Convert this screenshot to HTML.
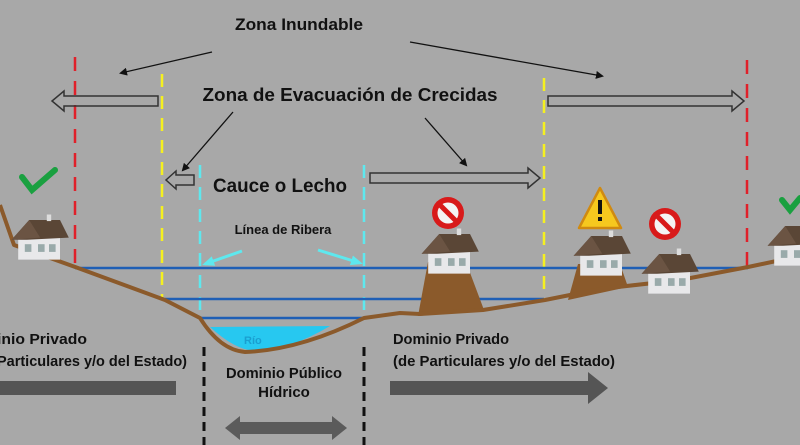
<!DOCTYPE html>
<html><head><meta charset="utf-8"><style>
html,body{margin:0;padding:0;background:#a8a8a8;}
svg{display:block}
text{font-family:"Liberation Sans",sans-serif;font-weight:bold;fill:#111}
</style></head><body>
<svg width="800" height="445" viewBox="0 0 800 445" xmlns="http://www.w3.org/2000/svg">
<defs>
<marker id="ah" markerWidth="8" markerHeight="8" refX="6" refY="4" orient="auto" markerUnits="userSpaceOnUse"><path d="M0,0 L8,4 L0,8 z" fill="#111"/></marker>
<marker id="ahc" markerWidth="12" markerHeight="10" refX="9" refY="5" orient="auto" markerUnits="userSpaceOnUse"><path d="M0,0 L12,5 L0,10 z" fill="#5ee8ee"/></marker>
<g id="house">
<polygon points="2,16 40,16 40,36 2,36" fill="#e8e8ea"/>
<polygon points="-4,18 12,0 40,0 48,16 10,18" fill="#5a4636"/>
<polygon points="-4,18 12,0 22,16" fill="#6b5443"/>
<rect x="8" y="22" width="6" height="7" fill="#9aa"/><rect x="20" y="22" width="6" height="7" fill="#9aa"/><rect x="30" y="22" width="6" height="7" fill="#9aa"/>
<rect x="28" y="-5" width="4" height="6" fill="#ddd"/>
</g>
<g id="noway"><circle r="16" fill="#d81a1a"/><circle r="10.5" fill="#f4f4f4"/><line x1="-8" y1="-8" x2="8" y2="8" stroke="#d81a1a" stroke-width="5"/></g>
</defs>

<line x1="75" y1="57" x2="75" y2="270" stroke="#e0202a" stroke-width="2.5" stroke-dasharray="14,10"/>
<line x1="747" y1="60" x2="747" y2="268" stroke="#e0202a" stroke-width="2.5" stroke-dasharray="14,10"/>
<line x1="162" y1="74" x2="162" y2="300" stroke="#f5f020" stroke-width="2.5" stroke-dasharray="13,9"/>
<line x1="544" y1="78" x2="544" y2="300" stroke="#f5f020" stroke-width="2.5" stroke-dasharray="13,9"/>
<line x1="200" y1="165" x2="200" y2="318" stroke="#5ee8ee" stroke-width="2.5" stroke-dasharray="13,9"/>
<line x1="364" y1="165" x2="364" y2="318" stroke="#5ee8ee" stroke-width="2.5" stroke-dasharray="13,9"/>

<line x1="75" y1="268" x2="748" y2="268" stroke="#1f5fb5" stroke-width="2.5"/>
<line x1="165" y1="299" x2="544" y2="299" stroke="#1f5fb5" stroke-width="2.5"/>
<line x1="200" y1="318" x2="364" y2="318" stroke="#1f5fb5" stroke-width="2.5"/>

<path d="M210,327 Q235,350 255,351 Q290,350 330,326 Z" fill="#27c8f0"/>
<text x="244" y="344" font-size="11" style="fill:#1a9fd0">Río</text>

<polygon points="418,316 428,262 466,262 484,310" fill="#8b5a2b"/>
<polygon points="568,300 578,264 620,264 628,287" fill="#8b5a2b"/>
<path d="M0,205 L14,245 L78,268 L165,300 L200,318 Q220,350 245,352 Q300,350 364,318 L400,313 L420,314 L483,310 L545,300 L600,289 L680,280 L748,267 L800,256" fill="none" stroke="#8b5a2b" stroke-width="4" stroke-linejoin="round"/>

<use href="#house" transform="translate(16,220) scale(1.1)"/>
<use href="#house" transform="translate(426,234) scale(1.1)"/>
<use href="#house" transform="translate(578,236) scale(1.1)"/>
<use href="#house" transform="translate(646,254) scale(1.1)"/>
<use href="#house" transform="translate(772,226) scale(1.1)"/>

<use href="#noway" x="448" y="213"/>
<use href="#noway" x="665" y="224"/>
<polygon points="600,188 621,228 579,228" fill="#f6c81e" stroke="#d08a10" stroke-width="2.5" stroke-linejoin="round"/>
<rect x="598" y="200" width="4" height="14" fill="#111"/><rect x="598" y="217" width="4" height="4" fill="#111"/>
<path d="M22,177 L32,190 L55,170" fill="none" stroke="#1aa040" stroke-width="6" stroke-linecap="round"/>
<path d="M782,200 L790,210 L800,198" fill="none" stroke="#1aa040" stroke-width="6" stroke-linecap="round"/>

<g fill="none" stroke="#333" stroke-width="1.5">
<path d="M158,96 L64,96 L64,91 L52,101 L64,111 L64,106 L158,106 Z"/>
<path d="M548,96 L732,96 L732,91 L744,101 L732,111 L732,106 L548,106 Z"/>
<path d="M194,175 L176,175 L176,171 L166,180 L176,189 L176,185 L194,185 Z"/>
<path d="M370,173 L528,173 L528,168 L540,178 L528,188 L528,183 L370,183 Z"/>
</g>
<g stroke="#111" stroke-width="1.3" marker-end="url(#ah)">
<line x1="212" y1="52" x2="121" y2="73"/>
<line x1="410" y1="42" x2="602" y2="76"/>
<line x1="233" y1="112" x2="183" y2="170"/>
<line x1="425" y1="118" x2="466" y2="165"/>
</g>
<g stroke="#5ee8ee" stroke-width="3" marker-end="url(#ahc)">
<line x1="242" y1="251" x2="205" y2="264"/>
<line x1="318" y1="250" x2="360" y2="263"/>
</g>

<text x="299" y="30" font-size="17" text-anchor="middle" textLength="128" lengthAdjust="spacingAndGlyphs">Zona Inundable</text>
<text x="350" y="101" font-size="18" text-anchor="middle" textLength="295" lengthAdjust="spacingAndGlyphs">Zona de Evacuación de Crecidas</text>
<text x="280" y="192" font-size="19" text-anchor="middle" textLength="134" lengthAdjust="spacingAndGlyphs">Cauce o Lecho</text>
<text x="283" y="234" font-size="13" text-anchor="middle">Línea de Ribera</text>

<text x="-3" y="344" font-size="15" textLength="90" lengthAdjust="spacingAndGlyphs">inio Privado</text>
<text x="-3" y="366" font-size="15" textLength="190" lengthAdjust="spacingAndGlyphs">Particulares y/o del Estado)</text>
<text x="393" y="344" font-size="15" textLength="116" lengthAdjust="spacingAndGlyphs">Dominio Privado</text>
<text x="393" y="366" font-size="15" textLength="222" lengthAdjust="spacingAndGlyphs">(de Particulares y/o del Estado)</text>
<text x="284" y="378" font-size="15" text-anchor="middle" textLength="116" lengthAdjust="spacingAndGlyphs">Dominio Público</text>
<text x="284" y="397" font-size="15" text-anchor="middle">Hídrico</text>

<rect x="0" y="381" width="176" height="14" fill="#555"/>
<polygon points="390,381 588,381 588,372 608,388 588,404 588,395 390,395" fill="#555"/>
<polygon points="225,428 240,416 240,422 332,422 332,416 347,428 332,440 332,434 240,434 240,440" fill="#5b5b5b"/>
<line x1="204" y1="347" x2="204" y2="445" stroke="#111" stroke-width="3" stroke-dasharray="9,6"/>
<line x1="364" y1="347" x2="364" y2="445" stroke="#111" stroke-width="3" stroke-dasharray="9,6"/>
</svg>
</body></html>
